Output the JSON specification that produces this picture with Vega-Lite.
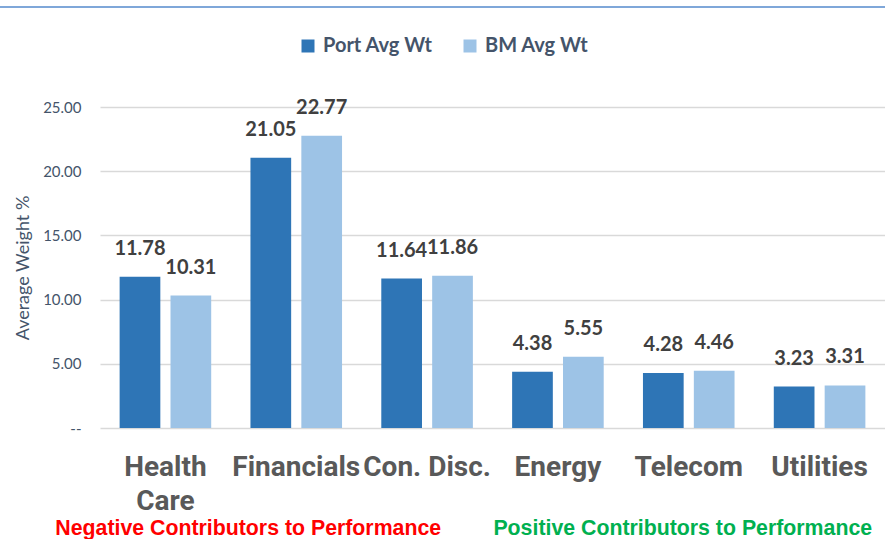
{
  "$schema": "https://vega.github.io/schema/vega-lite/v6.json",
  "width": 785,
  "height": 321,
  "autosize": {"type": "none"},
  "padding": {"left": 100, "top": 107, "right": 0, "bottom": 111},
  "background": "white",
  "config": {"view": {"stroke": null}, "font": "Lato"},
  "datasets": {
    "bars": [
      {"sector": "Health Care", "series": "Port Avg Wt", "value": 11.78},
      {"sector": "Health Care", "series": "BM Avg Wt", "value": 10.31},
      {"sector": "Financials", "series": "Port Avg Wt", "value": 21.05},
      {"sector": "Financials", "series": "BM Avg Wt", "value": 22.77},
      {"sector": "Con. Disc.", "series": "Port Avg Wt", "value": 11.64},
      {"sector": "Con. Disc.", "series": "BM Avg Wt", "value": 11.86},
      {"sector": "Energy", "series": "Port Avg Wt", "value": 4.38},
      {"sector": "Energy", "series": "BM Avg Wt", "value": 5.55},
      {"sector": "Telecom", "series": "Port Avg Wt", "value": 4.28},
      {"sector": "Telecom", "series": "BM Avg Wt", "value": 4.46},
      {"sector": "Utilities", "series": "Port Avg Wt", "value": 3.23},
      {"sector": "Utilities", "series": "BM Avg Wt", "value": 3.31}
    ]
  },
  "resolve": {"scale": {"x": "independent"}, "axis": {"x": "independent"}},
  "layer": [
    {
      "layer": [
        {
          "data": {"name": "bars"},
          "mark": {"type": "bar"},
          "encoding": {
            "x": {
              "field": "sector",
              "type": "nominal",
              "sort": ["Health Care", "Financials", "Con. Disc.", "Energy", "Telecom", "Utilities"],
              "scale": {"domain": ["Health Care", "Financials", "Con. Disc.", "Energy", "Telecom", "Utilities"], "paddingInner": 0.3, "paddingOuter": 0.15},
              "axis": {
                "title": null,
                "labelAngle": 0,
                "ticks": false,
                "domain": false,
                "labelFont": "Roboto",
                "labelFontWeight": "bold",
                "labelFontSize": 28,
                "labelColor": "#595959",
                "labelPadding": 25,
                "labelLineHeight": 34,
                "labelLimit": 0,
                "labelOverlap": false,
                "labelExpr": "datum.label == 'Health Care' ? ['Health', 'Care'] : datum.label"
              }
            },
            "xOffset": {"field": "series", "type": "nominal", "sort": ["Port Avg Wt", "BM Avg Wt"], "scale": {"paddingInner": 0.2, "paddingOuter": 0}},
            "y": {
              "field": "value",
              "type": "quantitative",
              "scale": {"domain": [0, 25], "nice": false},
              "axis": {
                "title": "Average Weight %",
                "titleFont": "Lato",
                "titleFontSize": 18,
                "titleFontWeight": "normal",
                "titleColor": "#44546A",
                "titlePadding": 10,
                "values": [0, 5, 10, 15, 20, 25],
                "labelExpr": "datum.value == 0 ? '--' : format(datum.value, '.2f')",
                "labelFontSize": 15,
                "labelColor": "#44546A",
                "labelPadding": 19,
                "ticks": false,
                "domain": false,
                "gridColor": "#D9D9D9",
                "gridWidth": 1.5
              }
            },
            "color": {
              "field": "series",
              "type": "nominal",
              "sort": ["Port Avg Wt", "BM Avg Wt"],
              "scale": {"domain": ["Port Avg Wt", "BM Avg Wt"], "range": ["#2E75B6", "#9DC3E6"]},
              "legend": {
                "title": null,
                "orient": "none",
                "legendX": 198,
                "legendY": -71,
                "direction": "horizontal",
                "symbolType": "square",
                "symbolSize": 169,
                "symbolStrokeWidth": 0,
                "labelFont": "Lato",
                "labelFontSize": 20,
                "labelFontWeight": "bold",
                "labelColor": "#44546A",
                "labelOffset": 5,
                "columnPadding": 27
              }
            }
          }
        },
        {
          "data": {"name": "bars"},
          "mark": {"type": "text", "baseline": "alphabetic", "dy": -22, "fontSize": 20, "fontWeight": "bold", "color": "#404040"},
          "encoding": {
            "x": {"field": "sector", "type": "nominal"},
            "xOffset": {"field": "series", "type": "nominal", "sort": ["Port Avg Wt", "BM Avg Wt"]},
            "y": {"field": "value", "type": "quantitative"},
            "text": {"field": "value", "type": "quantitative", "format": ".2f"}
          }
        },
        {
          "data": {"values": [{"sector": "Financials", "note": "Negative Contributors to Performance"}]},
          "mark": {"type": "text", "align": "center", "baseline": "middle", "dy": 101, "dx": -48, "font": "Liberation Sans", "fontSize": 21.3, "fontWeight": "bold", "color": "#FF0000"},
          "encoding": {
            "x": {"field": "sector", "type": "nominal"},
            "y": {"datum": 0, "type": "quantitative"},
            "text": {"field": "note"}
          }
        },
        {
          "data": {"values": [{"sector": "Telecom", "note": "Positive Contributors to Performance"}]},
          "mark": {"type": "text", "align": "center", "baseline": "middle", "dy": 101, "dx": -6, "font": "Liberation Sans", "fontSize": 21.3, "fontWeight": "bold", "color": "#00B050"},
          "encoding": {
            "x": {"field": "sector", "type": "nominal"},
            "y": {"datum": 0, "type": "quantitative"},
            "text": {"field": "note"}
          }
        }
      ]
    },
    {
      "data": {"values": [{"line": "frame top"}]},
      "mark": {"type": "rule", "color": "#7FA7D9", "strokeWidth": 2, "clip": false},
      "encoding": {
        "x": {"datum": -12.74, "type": "quantitative", "scale": {"domain": [0, 100], "nice": false, "zero": false}, "axis": null},
        "x2": {"datum": 100},
        "y": {"datum": 32.79, "type": "quantitative"}
      }
    }
  ]
}
